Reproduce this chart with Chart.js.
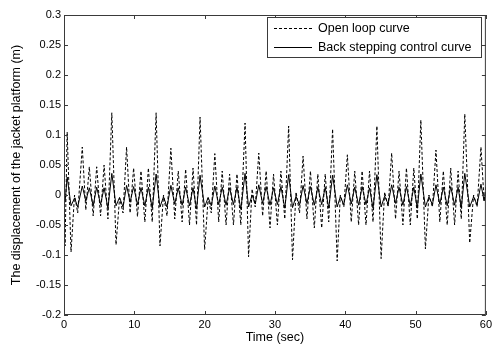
<!DOCTYPE html>
<html>
<head>
<meta charset="utf-8">
<script src="https://cdn.jsdelivr.net/npm/chart.js@4"></script>
<style>
  html, body { margin: 0; padding: 0; background: #fff; }
  canvas { display: block; }
</style>
</head>
<body>
<canvas id="myChart" width="495" height="345"></canvas>
<script>
// time samples (sec) at the curve's turning points
const timeSec = [
  0.00, 0.15, 0.45, 1.00, 1.50, 1.95, 2.60, 3.10, 3.60, 4.15, 4.65, 5.20, 5.70, 6.25,
  6.80, 7.40, 7.90, 8.40, 8.90, 9.40, 9.90, 10.45, 10.95, 11.50, 12.00, 12.55,
  13.10, 13.65, 14.15, 14.65, 15.20, 15.75, 16.25, 16.80, 17.30, 17.85, 18.35, 18.85,
  19.35, 20.00, 20.50, 20.95, 21.45, 22.00, 22.50, 23.05, 23.55, 24.10, 24.60, 25.15,
  25.75, 26.25, 26.75, 27.20, 27.70, 28.25, 28.75, 29.30, 29.80, 30.35, 30.85, 31.40,
  31.95, 32.50, 33.00, 33.50, 34.00, 34.55, 35.05, 35.60, 36.10, 36.65, 37.15, 37.65,
  38.20, 38.85, 39.30, 39.80, 40.30, 40.85, 41.35, 41.90, 42.40, 42.95, 43.45, 43.95,
  44.50, 45.10, 45.60, 46.10, 46.60, 47.15, 47.65, 48.20, 48.70, 49.25, 49.75, 50.25,
  50.75, 51.40, 51.90, 52.40, 52.90, 53.45, 53.95, 54.50, 55.00, 55.55, 56.05, 56.50,
  57.00, 57.70, 58.25, 58.75, 59.30, 59.75, 60.00
];

const openLoop = [
  0, -0.085, 0.105, -0.095, 0.0, -0.03, 0.08, -0.025, 0.047, -0.035, 0.047, -0.035, 0.05, -0.04,
  0.137, -0.083, -0.005, -0.03, 0.08, -0.03, 0.045, -0.036, 0.04, -0.045, 0.045, -0.045,
  0.137, -0.085, 0.0, -0.035, 0.078, -0.04, 0.04, -0.045, 0.043, -0.05, 0.045, -0.05,
  0.13, -0.091, -0.005, -0.03, 0.069, -0.045, 0.04, -0.05, 0.035, -0.05, 0.035, -0.05,
  0.12, -0.103, 0.01, -0.02, 0.07, -0.035, 0.04, -0.055, 0.035, -0.05, 0.04, -0.04,
  0.115, -0.108, 0.005, -0.03, 0.065, -0.04, 0.04, -0.055, 0.035, -0.055, 0.035, -0.045,
  0.11, -0.11, 0.0, -0.02, 0.067, -0.045, 0.04, -0.05, 0.04, -0.05, 0.04, -0.045,
  0.115, -0.106, 0.005, -0.02, 0.07, -0.04, 0.04, -0.05, 0.045, -0.05, 0.045, -0.04,
  0.125, -0.09, 0.0, -0.02, 0.075, -0.045, 0.04, -0.05, 0.045, -0.05, 0.04, -0.04,
  0.135, -0.08, 0.0, -0.02, 0.08, -0.01, 0.015
];

const backStepping = [
  0, -0.012, 0.03, -0.018, -0.005, -0.02, 0.015, -0.01, 0.012, -0.018, 0.013, -0.016, 0.012, -0.022,
  0.036, -0.018, -0.004, -0.02, 0.016, -0.012, 0.014, -0.016, 0.012, -0.018, 0.013, -0.022,
  0.035, -0.02, -0.003, -0.02, 0.016, -0.015, 0.012, -0.017, 0.013, -0.018, 0.012, -0.023,
  0.033, -0.02, -0.004, -0.018, 0.015, -0.016, 0.013, -0.017, 0.012, -0.016, 0.013, -0.024,
  0.036, -0.02, 0.0, -0.015, 0.017, -0.014, 0.014, -0.017, 0.012, -0.016, 0.014, -0.022,
  0.034, -0.021, -0.002, -0.017, 0.016, -0.014, 0.014, -0.017, 0.013, -0.016, 0.013, -0.022,
  0.033, -0.02, -0.003, -0.016, 0.017, -0.015, 0.013, -0.017, 0.014, -0.016, 0.012, -0.022,
  0.034, -0.02, -0.002, -0.015, 0.017, -0.014, 0.013, -0.017, 0.014, -0.018, 0.013, -0.022,
  0.035, -0.02, -0.003, -0.016, 0.017, -0.015, 0.013, -0.018, 0.014, -0.017, 0.013, -0.022,
  0.036, -0.02, -0.003, -0.016, 0.018, -0.01, 0.005
];

const seriesNames = ['Open loop curve', 'Back stepping control curve'];
const xTitle = 'Time (sec)';
const yTitle = 'The displacement of the jacket platform (m)';

const FONT = 'Liberation Sans, Arial, sans-serif';
const AXIS_COLOR = '#3a3a3a';

const toPoints = (vals) => vals.map((v, i) => ({ x: timeSec[i], y: v }));

// matlab-ish box with inward ticks
const framePlugin = {
  id: 'frame',
  afterDraw(chart) {
    const { ctx, chartArea: a, scales } = chart;
    ctx.save();
    ctx.strokeStyle = AXIS_COLOR;
    ctx.lineWidth = 1;
    ctx.strokeRect(a.left + 0.5, a.top + 0.5, a.right - a.left - 1, a.bottom - a.top - 1);
    ctx.beginPath();
    scales.x.ticks.forEach((t) => {
      const px = Math.round(scales.x.getPixelForValue(t.value)) + 0.5;
      ctx.moveTo(px, a.bottom);
      ctx.lineTo(px, a.bottom - 4);
      ctx.moveTo(px, a.top);
      ctx.lineTo(px, a.top + 4);
    });
    scales.y.ticks.forEach((t) => {
      const py = Math.round(scales.y.getPixelForValue(t.value)) + 0.5;
      ctx.moveTo(a.left, py);
      ctx.lineTo(a.left + 4, py);
      ctx.moveTo(a.right, py);
      ctx.lineTo(a.right - 4, py);
    });
    ctx.stroke();
    ctx.restore();
  },
};

const boxLegendPlugin = {
  id: 'boxLegend',
  afterDraw(chart) {
    const { ctx } = chart;
    const x0 = 267, y0 = 17, w = 214, h = 40;
    ctx.save();
    ctx.fillStyle = '#fff';
    ctx.fillRect(x0, y0, w, h);
    ctx.strokeStyle = AXIS_COLOR;
    ctx.lineWidth = 1;
    ctx.strokeRect(x0 + 0.5, y0 + 0.5, w, h);
    ctx.font = '12.5px ' + FONT;
    ctx.textBaseline = 'middle';
    ctx.fillStyle = '#000';
    chart.data.datasets.forEach((ds, i) => {
      const y = y0 + 11 + i * 19;
      ctx.beginPath();
      ctx.strokeStyle = '#000';
      ctx.setLineDash(ds.borderDash || []);
      ctx.moveTo(274, Math.round(y) + 0.5);
      ctx.lineTo(312, Math.round(y) + 0.5);
      ctx.stroke();
      ctx.setLineDash([]);
      ctx.fillText(ds.label, 318, y + 0.5);
    });
    ctx.restore();
  },
};

new Chart(document.getElementById('myChart'), {
  type: 'line',
  data: {
    datasets: [
      {
        label: seriesNames[0],
        data: toPoints(openLoop),
        borderColor: '#000',
        borderWidth: 1,
        borderDash: [3, 2],
        pointRadius: 0,
        tension: 0,
      },
      {
        label: seriesNames[1],
        data: toPoints(backStepping),
        borderColor: '#000',
        borderWidth: 1,
        pointRadius: 0,
        tension: 0,
      },
    ],
  },
  options: {
    responsive: false,
    animation: false,
    devicePixelRatio: 1,
    layout: { autoPadding: false, padding: { top: 15, right: 5, left: 0, bottom: 0 } },
    plugins: { legend: { display: false }, tooltip: { enabled: false } },
    scales: {
      x: {
        type: 'linear',
        min: 0,
        max: 60,
        grid: { display: false, drawTicks: false },
        border: { display: false },
        ticks: { stepSize: 10, padding: 3, color: '#000', font: { family: FONT, size: 11 }, maxRotation: 0 },
        title: { display: true, text: xTitle, color: '#000', font: { family: FONT, size: 12.5 }, padding: { top: 0, bottom: 0 } },
        afterFit: (s) => { s.height = 30; },
      },
      y: {
        min: -0.2,
        max: 0.3,
        grid: { display: false, drawTicks: false },
        border: { display: false },
        ticks: {
          stepSize: 0.05,
          padding: 3,
          color: '#000',
          font: { family: FONT, size: 11 },
          callback: (v) => String(Number(v.toFixed(2))),
        },
        title: { display: true, text: yTitle, color: '#000', font: { family: FONT, size: 12.5 }, padding: { top: 9, bottom: 0 } },
        afterFit: (s) => { s.width = 64; },
      },
    },
  },
  plugins: [framePlugin, boxLegendPlugin],
});
</script>
</body>
</html>
